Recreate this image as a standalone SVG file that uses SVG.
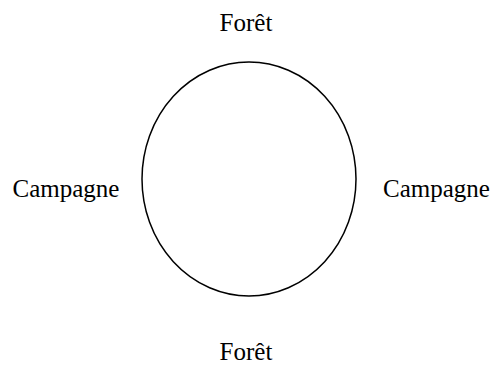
<svg xmlns="http://www.w3.org/2000/svg" width="496" height="368" viewBox="0 0 496 368">
<style>
.lbl{font-family:"Liberation Serif","Times New Roman",serif;font-size:25px;fill:#000;text-anchor:middle}
.shape{fill:none;stroke:#000;stroke-width:1.5}
</style>
<rect width="496" height="368" fill="#fff"/>
<g id="circle"><ellipse class="shape" cx="249" cy="179" rx="107" ry="117"/></g>
<g id="foret-top"><text class="lbl" x="246" y="31">Forêt</text></g>
<g id="foret-bottom"><text class="lbl" x="246" y="360">Forêt</text></g>
<g id="campagne-left"><text class="lbl" x="66" y="197">Campagne</text></g>
<g id="campagne-right"><text class="lbl" x="436.5" y="197">Campagne</text></g>
<g id="connectors"></g>
</svg>
